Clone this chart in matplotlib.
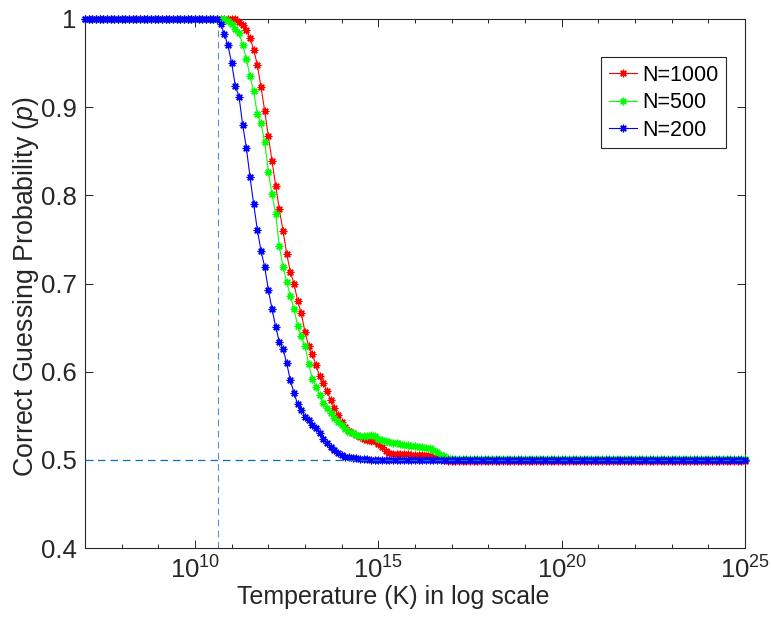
import numpy as np
import matplotlib
matplotlib.use("Agg")
import matplotlib.pyplot as plt

plt.rcParams['font.family'] = ['Liberation Sans', 'DejaVu Sans']
plt.rcParams['mathtext.fontset'] = 'custom'
plt.rcParams['mathtext.rm'] = 'Liberation Sans'
plt.rcParams['mathtext.it'] = 'Liberation Sans:italic'

# x grid: log10(T) from 7.0 to 25.0 in steps of 0.1 decade
log_T = np.round(np.arange(70, 251) / 10.0, 1)
temperature = 10.0 ** log_T

p_n1000 = [
    1.000, 1.000, 1.000, 1.000, 1.000, 1.000, 1.000, 1.000, 1.000, 1.000,
    1.000, 1.000, 1.000, 1.000, 1.000, 1.000, 1.000, 1.000, 1.000, 1.000,
    1.000, 1.000, 1.000, 1.000, 1.000, 1.000, 1.000, 1.000, 1.000, 1.000,
    1.000, 1.000, 1.000, 1.000, 1.000, 1.000, 1.000, 1.000, 1.000, 1.000,
    1.000, 1.000, 0.997, 0.993, 0.987, 0.979, 0.965, 0.948, 0.923, 0.896,
    0.867, 0.839, 0.811, 0.784, 0.760, 0.734, 0.713, 0.700, 0.680, 0.666,
    0.645, 0.629, 0.620, 0.607, 0.595, 0.587, 0.578, 0.568, 0.559, 0.551,
    0.543, 0.537, 0.533, 0.530, 0.528, 0.526, 0.524, 0.522, 0.521, 0.521,
    0.518, 0.514, 0.510, 0.508, 0.507, 0.507, 0.507, 0.507, 0.507, 0.506,
    0.506, 0.506, 0.505, 0.505, 0.504, 0.503, 0.502, 0.501, 0.500, 0.499,
    0.499, 0.499, 0.499, 0.499, 0.499, 0.499, 0.499, 0.499, 0.499, 0.499,
    0.499, 0.499, 0.499, 0.499, 0.499, 0.499, 0.499, 0.499, 0.499, 0.499,
    0.499, 0.499, 0.499, 0.499, 0.499, 0.499, 0.499, 0.499, 0.499, 0.499,
    0.499, 0.499, 0.499, 0.499, 0.499, 0.499, 0.499, 0.499, 0.499, 0.499,
    0.499, 0.499, 0.499, 0.499, 0.499, 0.499, 0.499, 0.499, 0.499, 0.499,
    0.499, 0.499, 0.499, 0.499, 0.499, 0.499, 0.499, 0.499, 0.499, 0.499,
    0.499, 0.499, 0.499, 0.499, 0.499, 0.499, 0.499, 0.499, 0.499, 0.499,
    0.499, 0.499, 0.499, 0.499, 0.499, 0.499, 0.499, 0.499, 0.499, 0.499,
    0.499,
]

p_n500 = [
    1.000, 1.000, 1.000, 1.000, 1.000, 1.000, 1.000, 1.000, 1.000, 1.000,
    1.000, 1.000, 1.000, 1.000, 1.000, 1.000, 1.000, 1.000, 1.000, 1.000,
    1.000, 1.000, 1.000, 1.000, 1.000, 1.000, 1.000, 1.000, 1.000, 1.000,
    1.000, 1.000, 1.000, 1.000, 1.000, 1.000, 1.000, 1.000, 1.000, 0.998,
    0.994, 0.989, 0.984, 0.971, 0.955, 0.935, 0.918, 0.892, 0.882, 0.860,
    0.827, 0.801, 0.779, 0.742, 0.719, 0.702, 0.686, 0.671, 0.652, 0.640,
    0.629, 0.609, 0.592, 0.583, 0.574, 0.565, 0.559, 0.553, 0.548, 0.543,
    0.539, 0.535, 0.532, 0.530, 0.528, 0.527, 0.527, 0.527, 0.528, 0.527,
    0.524, 0.522, 0.521, 0.520, 0.519, 0.519, 0.518, 0.517, 0.517, 0.516,
    0.516, 0.515, 0.514, 0.513, 0.513, 0.511, 0.509, 0.506, 0.504, 0.502,
    0.501, 0.501, 0.501, 0.501, 0.501, 0.501, 0.501, 0.501, 0.501, 0.501,
    0.501, 0.501, 0.501, 0.501, 0.501, 0.501, 0.501, 0.501, 0.501, 0.501,
    0.501, 0.501, 0.501, 0.501, 0.501, 0.501, 0.501, 0.501, 0.501, 0.501,
    0.501, 0.501, 0.501, 0.501, 0.501, 0.501, 0.501, 0.501, 0.501, 0.501,
    0.501, 0.501, 0.501, 0.501, 0.501, 0.501, 0.501, 0.501, 0.501, 0.501,
    0.501, 0.501, 0.501, 0.501, 0.501, 0.501, 0.501, 0.501, 0.501, 0.501,
    0.501, 0.501, 0.501, 0.501, 0.501, 0.501, 0.501, 0.501, 0.501, 0.501,
    0.501, 0.501, 0.501, 0.501, 0.501, 0.501, 0.501, 0.501, 0.501, 0.501,
    0.501,
]

p_n200 = [
    1.000, 1.000, 1.000, 1.000, 1.000, 1.000, 1.000, 1.000, 1.000, 1.000,
    1.000, 1.000, 1.000, 1.000, 1.000, 1.000, 1.000, 1.000, 1.000, 1.000,
    1.000, 1.000, 1.000, 1.000, 1.000, 1.000, 1.000, 1.000, 1.000, 1.000,
    1.000, 1.000, 1.000, 1.000, 1.000, 1.000, 1.000, 0.994, 0.983, 0.970,
    0.950, 0.924, 0.912, 0.880, 0.854, 0.821, 0.790, 0.761, 0.737, 0.719,
    0.693, 0.671, 0.651, 0.634, 0.626, 0.610, 0.590, 0.576, 0.563, 0.557,
    0.549, 0.545, 0.540, 0.536, 0.531, 0.524, 0.519, 0.515, 0.511, 0.508,
    0.505, 0.503, 0.503, 0.502, 0.502, 0.501, 0.501, 0.501, 0.500, 0.500,
    0.500, 0.500, 0.500, 0.500, 0.500, 0.500, 0.500, 0.500, 0.500, 0.500,
    0.500, 0.500, 0.500, 0.500, 0.500, 0.500, 0.500, 0.500, 0.500, 0.500,
    0.500, 0.500, 0.500, 0.500, 0.500, 0.500, 0.500, 0.500, 0.500, 0.500,
    0.500, 0.500, 0.500, 0.500, 0.500, 0.500, 0.500, 0.500, 0.500, 0.500,
    0.500, 0.500, 0.500, 0.500, 0.500, 0.500, 0.500, 0.500, 0.500, 0.500,
    0.500, 0.500, 0.500, 0.500, 0.500, 0.500, 0.500, 0.500, 0.500, 0.500,
    0.500, 0.500, 0.500, 0.500, 0.500, 0.500, 0.500, 0.500, 0.500, 0.500,
    0.500, 0.500, 0.500, 0.500, 0.500, 0.500, 0.500, 0.500, 0.500, 0.500,
    0.500, 0.500, 0.500, 0.500, 0.500, 0.500, 0.500, 0.500, 0.500, 0.500,
    0.500, 0.500, 0.500, 0.500, 0.500, 0.500, 0.500, 0.500, 0.500, 0.500,
    0.500,
]

series_labels = ['N=1000', 'N=500', 'N=200']
series_colors = ['#ff0000', '#00ff00', '#0000ff']
series_values = [p_n1000, p_n500, p_n200]

threshold_T = 10.0 ** 10.63
baseline_p = 0.5

x_major = [1e10, 1e15, 1e20, 1e25]
x_major_labels = [r'$\mathregular{10^{10}}$', r'$\mathregular{10^{15}}$',
                  r'$\mathregular{10^{20}}$', r'$\mathregular{10^{25}}$']
x_minor = [10.0 ** k for k in range(7, 26)]
y_ticks = [0.4, 0.5, 0.6, 0.7, 0.8, 0.9, 1.0]
y_labels = ['0.4', '0.5', '0.6', '0.7', '0.8', '0.9', '1']

fig = plt.figure(figsize=(7.71, 6.27), dpi=100)
ax = fig.add_axes([85 / 771, 1 - 548 / 627, 660 / 771, 529 / 627])

ax.set_xscale('log')
ax.set_xlim(1e7, 1e25)
ax.set_ylim(0.4, 1.0)

star = (8, 2, 0)
for vals, lab, col in zip(series_values, series_labels, series_colors):
    ax.plot(temperature, vals, color=col, lw=0.8, marker=star,
            markersize=5.5, markeredgewidth=0.9, label=lab, clip_on=False,
            zorder=3)

line_blue = (0.0, 0.447, 0.741)
ax.axhline(baseline_p, color=line_blue, lw=0.9, dashes=(6, 4), zorder=4)
ax.plot([threshold_T, threshold_T], [0.4, 0.99], color=(0.35, 0.55, 0.75),
        lw=0.8, dashes=(6, 4), zorder=2)

ax.set_xticks(x_major)
ax.set_xticklabels(x_major_labels)
ax.set_xticks(x_minor, minor=True)
ax.xaxis.set_minor_formatter(matplotlib.ticker.NullFormatter())
ax.set_yticks(y_ticks)
ax.set_yticklabels(y_labels)
ax.yaxis.set_minor_locator(matplotlib.ticker.NullLocator())

axcol = '#262626'
for s in ax.spines.values():
    s.set_color(axcol)
    s.set_linewidth(0.8)
ax.tick_params(which='both', direction='in', top=True, right=True,
               colors=axcol, labelcolor='#262626', width=0.7)
ax.tick_params(which='major', length=5.5, labelsize=18.5, pad=6)
ax.tick_params(which='minor', length=2.8)

ax.set_xlabel('Temperature (K) in log scale', fontsize=18, color='#262626')
ax.xaxis.set_label_coords(0.467, -0.069)
ax.set_ylabel(r'Correct Guessing Probability ($\mathit{p}$)', fontsize=19.3,
              color='#262626')
ax.yaxis.set_label_coords(-0.066, 0.494)

leg = ax.legend(loc='upper right', bbox_to_anchor=(0.971, 0.928),
                fontsize=15.5, frameon=True, fancybox=False,
                edgecolor='#262626', framealpha=1, handlelength=1.3,
                handletextpad=0.25, labelspacing=0.3, borderpad=0.35,
                borderaxespad=0)
leg.get_frame().set_linewidth(0.8)

fig.savefig('out.png', dpi=100)
